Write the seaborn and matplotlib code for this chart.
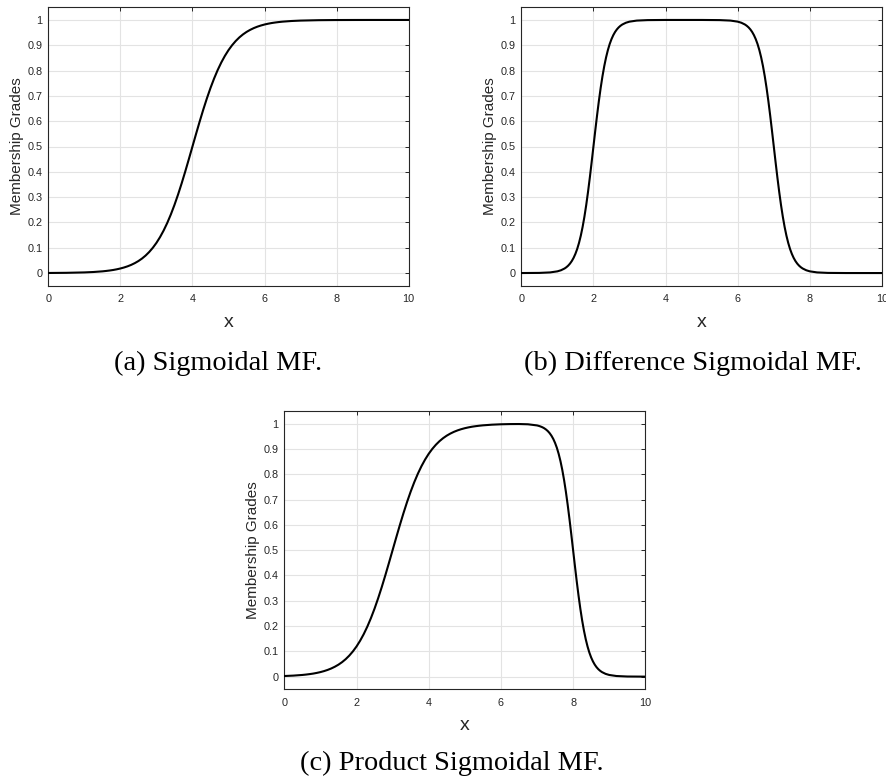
import matplotlib
matplotlib.use("Agg")
import matplotlib.pyplot as plt
import seaborn as sns
import pandas as pd

# ---------------- data ----------------
x_sig = [0.0, 0.5, 1.0, 1.25,
         1.5, 1.6, 1.7, 1.8, 1.9, 2.0, 2.1, 2.2, 2.3, 2.4,
         2.5, 2.6, 2.7, 2.8, 2.9, 3.0, 3.1, 3.2, 3.3, 3.4,
         3.5, 3.6, 3.7, 3.8, 3.9, 4.0, 4.1, 4.2, 4.3, 4.4,
         4.5, 4.6, 4.7, 4.8, 4.9, 5.0, 5.1, 5.2, 5.3, 5.4,
         5.5, 5.6, 5.7, 5.8, 5.9, 6.0, 6.1, 6.2, 6.3, 6.4, 6.5,
         6.75, 7.0, 7.5, 8.0, 8.5, 9.0, 10.0]
y_sig = [0.0003, 0.0009, 0.0025, 0.0041,
         0.0067, 0.0082, 0.0100, 0.0121, 0.0148, 0.0180, 0.0219, 0.0266, 0.0323, 0.0392,
         0.0474, 0.0573, 0.0691, 0.0832, 0.0998, 0.1192, 0.1419, 0.1680, 0.1978, 0.2315,
         0.2689, 0.3100, 0.3543, 0.4013, 0.4502, 0.5000, 0.5498, 0.5987, 0.6457, 0.6900,
         0.7311, 0.7685, 0.8022, 0.8320, 0.8581, 0.8808, 0.9002, 0.9168, 0.9309, 0.9427,
         0.9526, 0.9608, 0.9677, 0.9734, 0.9781, 0.9820, 0.9852, 0.9879, 0.9900, 0.9918, 0.9933,
         0.9959, 0.9975, 0.9991, 0.9997, 0.9999, 1.0, 1.0]

x_dsig = [0.0, 0.5, 0.8, 1.0, 1.1,
          1.2, 1.25, 1.3, 1.35, 1.4, 1.45, 1.5, 1.55, 1.6, 1.65, 1.7, 1.75, 1.8, 1.85, 1.9, 1.95,
          2.0, 2.05, 2.1, 2.15, 2.2, 2.25, 2.3, 2.35, 2.4, 2.45, 2.5, 2.55, 2.6, 2.65, 2.7, 2.75, 2.8,
          2.9, 3.0, 3.2, 3.5, 4.0, 5.0, 5.5, 5.8, 6.0, 6.1,
          6.2, 6.25, 6.3, 6.35, 6.4, 6.45, 6.5, 6.55, 6.6, 6.65, 6.7, 6.75, 6.8, 6.85, 6.9, 6.95,
          7.0, 7.05, 7.1, 7.15, 7.2, 7.25, 7.3, 7.35, 7.4, 7.45, 7.5, 7.55, 7.6, 7.65, 7.7, 7.75, 7.8,
          7.9, 8.0, 8.2, 8.5, 9.0, 10.0]
y_dsig = [0.00005, 0.00055, 0.0025, 0.0067, 0.0110,
          0.0180, 0.0230, 0.0293, 0.0373, 0.0474, 0.0601, 0.0759, 0.0953, 0.1192, 0.1480, 0.1824, 0.2227, 0.2689, 0.3208, 0.3775, 0.4378,
          0.5000, 0.5622, 0.6225, 0.6792, 0.7311, 0.7773, 0.8176, 0.8520, 0.8808, 0.9047, 0.9241, 0.9399, 0.9526, 0.9627, 0.9707, 0.9770, 0.9820,
          0.9890, 0.9933, 0.9975, 0.9994, 1.0, 1.0, 0.9994, 0.9975, 0.9933, 0.9890,
          0.9820, 0.9770, 0.9707, 0.9627, 0.9526, 0.9399, 0.9241, 0.9047, 0.8808, 0.8520, 0.8176, 0.7773, 0.7311, 0.6792, 0.6225, 0.5622,
          0.5000, 0.4378, 0.3775, 0.3208, 0.2689, 0.2227, 0.1824, 0.1480, 0.1192, 0.0953, 0.0759, 0.0601, 0.0474, 0.0373, 0.0293, 0.0230, 0.0180,
          0.0110, 0.0067, 0.0025, 0.00055, 0.00005, 0.0]

x_psig = [0.0, 0.25,
          0.5, 0.6, 0.7, 0.8, 0.9, 1.0, 1.1, 1.2, 1.3, 1.4,
          1.5, 1.6, 1.7, 1.8, 1.9, 2.0, 2.1, 2.2, 2.3, 2.4,
          2.5, 2.6, 2.7, 2.8, 2.9, 3.0, 3.1, 3.2, 3.3, 3.4,
          3.5, 3.6, 3.7, 3.8, 3.9, 4.0, 4.1, 4.2, 4.3, 4.4,
          4.5, 4.6, 4.7, 4.8, 4.9, 5.0, 5.1, 5.2, 5.3, 5.4, 5.5,
          5.75, 6.0, 6.25, 6.5, 6.75,
          7.0, 7.05, 7.1, 7.15, 7.2, 7.25, 7.3, 7.35, 7.4, 7.45, 7.5, 7.55, 7.6, 7.65, 7.7, 7.75, 7.8, 7.85, 7.9, 7.95,
          8.0, 8.05, 8.1, 8.15, 8.2, 8.25, 8.3, 8.35, 8.4, 8.45, 8.5, 8.55, 8.6, 8.65, 8.7, 8.75, 8.8,
          8.9, 9.0, 9.2, 9.5, 10.0]
y_psig = [0.0025, 0.0041,
          0.0067, 0.0082, 0.0100, 0.0121, 0.0148, 0.0180, 0.0219, 0.0266, 0.0323, 0.0392,
          0.0474, 0.0573, 0.0691, 0.0832, 0.0998, 0.1192, 0.1419, 0.1680, 0.1978, 0.2315,
          0.2689, 0.3100, 0.3543, 0.4013, 0.4502, 0.5000, 0.5498, 0.5987, 0.6457, 0.6900,
          0.7311, 0.7685, 0.8022, 0.8320, 0.8581, 0.8808, 0.9002, 0.9168, 0.9309, 0.9427,
          0.9526, 0.9608, 0.9677, 0.9734, 0.9781, 0.9820, 0.9852, 0.9879, 0.9900, 0.9918, 0.9933,
          0.9959, 0.9975, 0.9983, 0.9985, 0.9975,
          0.9930, 0.9911, 0.9887, 0.9857, 0.9818, 0.9768, 0.9705, 0.9625, 0.9524, 0.9398, 0.9240, 0.9046, 0.8807, 0.8519, 0.8175, 0.7772, 0.7310, 0.6791, 0.6224, 0.5622,
          0.5000, 0.4378, 0.3775, 0.3208, 0.2689, 0.2227, 0.1824, 0.1480, 0.1192, 0.0953, 0.0759, 0.0601, 0.0474, 0.0373, 0.0293, 0.0230, 0.0180,
          0.0110, 0.0067, 0.0025, 0.00055, 0.00005]

x_ticks = [0, 2, 4, 6, 8, 10]
y_ticks = [0, 0.1, 0.2, 0.3, 0.4, 0.5, 0.6, 0.7, 0.8, 0.9, 1]
y_ticklabels = ["0", "0.1", "0.2", "0.3", "0.4", "0.5", "0.6", "0.7", "0.8", "0.9", "1"]
captions = ["(a) Sigmoidal MF.", "(b) Difference Sigmoidal MF.", "(c) Product Sigmoidal MF."]
x_label = "x"
y_label = "Membership Grades"

# ---------------- style ----------------
sns.set_style("white")
plt.rcParams["font.family"] = ["Liberation Sans", "DejaVu Sans"]

W, H = 887, 783
fig = plt.figure(figsize=(W / 100, H / 100), dpi=100)


def px_axes(left, top, right, bottom):
    return fig.add_axes([left / W, 1 - bottom / H, (right - left) / W, (bottom - top) / H])


ax_a = px_axes(48.3, 7.3, 408.7, 285.7)
ax_b = px_axes(521.3, 7.3, 882.0, 285.7)
ax_c = px_axes(284.3, 411.0, 645.3, 689.3)

dark = "#262626"
panels = [(ax_a, x_sig, y_sig), (ax_b, x_dsig, y_dsig), (ax_c, x_psig, y_psig)]
for ax, xs, ys in panels:
    df = pd.DataFrame({"x": xs, "y": ys})
    sns.lineplot(data=df, x="x", y="y", ax=ax, color="black", linewidth=1.5, zorder=3,
                 solid_joinstyle="round", solid_capstyle="round")
    ax.set_xlim(0, 10)
    ax.set_ylim(-0.05, 1.05)
    ax.set_xticks(x_ticks)
    ax.set_xticklabels([str(t) for t in x_ticks])
    ax.set_yticks(y_ticks)
    ax.set_yticklabels(y_ticklabels)
    ax.grid(True, color="#e3e3e3", linewidth=0.8, zorder=0)
    ax.set_axisbelow(True)
    for s in ax.spines.values():
        s.set_visible(True)
        s.set_color(dark)
        s.set_linewidth(0.8)
    ax.tick_params(axis="both", which="both", direction="in", length=3, width=0.7,
                   color=dark, labelcolor=dark, labelsize=7.8, top=True, right=True)
    ax.tick_params(axis="x", pad=6)
    ax.tick_params(axis="y", pad=4)
    ax.set_xlabel(x_label, fontsize=14, color=dark)
    ax.set_ylabel(y_label, fontsize=11, color=dark)
    ax.xaxis.set_label_coords(0.5, -0.10)
    ax.yaxis.set_label_coords(-0.068, 0.5)

# captions
cap_font = ["Liberation Serif", "DejaVu Serif"]
fig.text(218 / W, 1 - 370 / H, captions[0], ha="center", va="baseline",
         fontsize=20.4, family=cap_font, color="black")
fig.text(693 / W, 1 - 370 / H, captions[1], ha="center", va="baseline",
         fontsize=20.4, family=cap_font, color="black")
fig.text(452 / W, 1 - 770 / H, captions[2], ha="center", va="baseline",
         fontsize=20.4, family=cap_font, color="black")

fig.savefig("out.png", dpi=100, facecolor="white")
